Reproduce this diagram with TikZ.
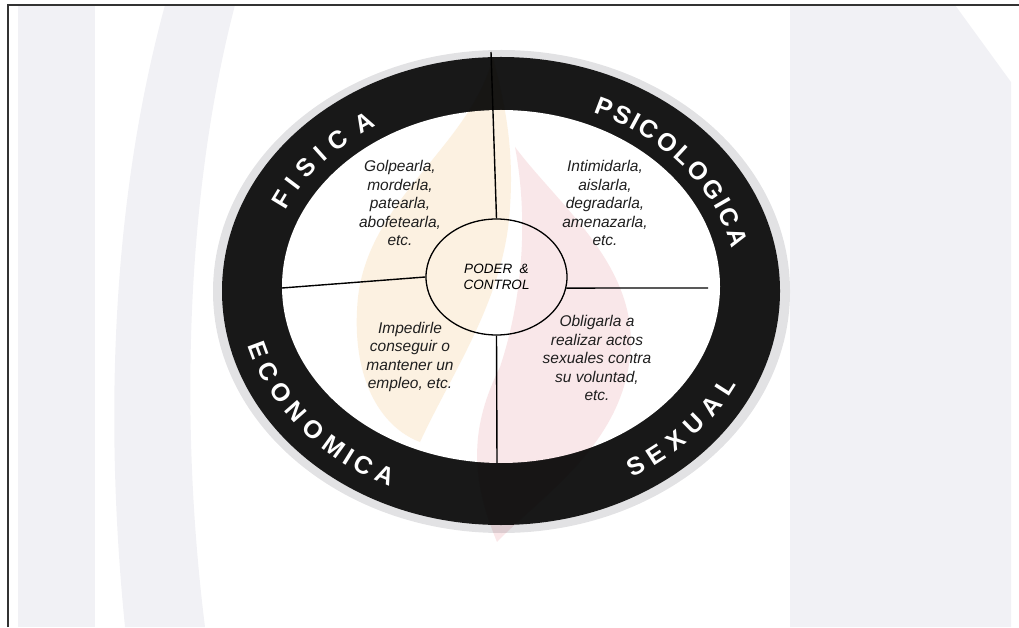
\documentclass[tikz,border=0pt]{standalone}
\usepackage{fontspec}
\setmainfont{Liberation Sans}
\usetikzlibrary{shapes.geometric,decorations.text}

\definecolor{wmgrey}{RGB}{241,241,245}
\definecolor{ringblack}{RGB}{24,24,24}
\definecolor{halo}{RGB}{226,226,228}
\definecolor{flamey}{RGB}{250,228,196}
\definecolor{flamep}{RGB}{242,196,200}

\begin{document}
\begin{tikzpicture}[x=1pt,y=1pt,
    quad/.style={font=\fontsize{15.5}{18.5}\selectfont\itshape, align=center, text=black!88},
    spoke/.style={line width=1.4pt},
    ringlabel/.style={decorate,
        decoration={text effects along path, text={#1},
        text effects/.cd, text along path, fit text to path,
        every character/.style={font=\fontsize{25}{25}\selectfont\bfseries, text=white}}}]

    \useasboundingbox (0,0) rectangle (1019,627);

    % watermark
    \fill[wmgrey] (18,0) rectangle (95,622);
    \fill[wmgrey] (125,0) .. controls (105,200) and (110,420) .. (165,622) -- (235,622)
        .. controls (185,430) and (180,200) .. (205,0) -- cycle;
    \fill[wmgrey] (790,0) -- (790,622) -- (955,622) -- (1011,545) -- (1011,0) -- cycle;

    % frame
    \draw[line width=1.2pt, black!80] (8,0) -- (8,622) -- (1019,622);

    % wheel
    \fill[halo] (501.5,335.5) ellipse [x radius=288.5pt, y radius=241.5pt];
    \fill[ringblack] (501,336) ellipse [x radius=279pt, y radius=234pt];
    \fill[white] (501,340.5) ellipse [x radius=219pt, y radius=176.5pt];
    \coordinate (mid) at (501,338);

    % flame tint
    \begin{scope}[blend mode=multiply]
    \fill[flamey, opacity=.5] (493,570) .. controls (470,480) and (370,430) .. (358,330)
        .. controls (350,250) and (380,200) .. (420,185) .. controls (455,260) and (505,330) .. (510,420)
        .. controls (515,490) and (500,540) .. (493,570) -- cycle;
    \fill[flamep, opacity=.4] (515,480) .. controls (560,420) and (640,360) .. (630,270)
        .. controls (620,180) and (540,130) .. (497,85) .. controls (470,150) and (470,200) .. (500,260)
        .. controls (520,320) and (530,400) .. (515,480) -- cycle;
    \end{scope}

    % centre and spokes
    \node[draw, ellipse, line width=1.3pt, minimum width=141pt, minimum height=116pt, inner sep=0pt,
        font=\fontsize{13.5}{15.5}\selectfont\itshape, align=center] (pc) at (496.5,350) {PODER \ \&\\CONTROL};
    \coordinate (ntop) at (491,575);
    \coordinate (nleft) at (282,339);
    \coordinate (nright) at (708,339);
    \coordinate (nbot) at (497,164);
    \draw[spoke] (ntop) -- (pc.north);
    \draw[spoke] (nleft) -- (pc.west);
    \draw[spoke] (pc.-9) -- (nright);
    \draw[spoke] (pc.south) -- (nbot);

    % quadrant texts
    \node[quad] (fis) at (400,424) {Golpearla,\\morderla,\\patearla,\\abofetearla,\\etc.};
    \node[quad] (psi) at (605,424) {Intimidarla,\\aislarla,\\degradarla,\\amenazarla,\\etc.};
    \node[quad] (eco) at (410,270) {Impedirle\\conseguir o\\mantener un\\empleo, etc.};
    \node[quad] (sex) at (597,269) {Obligarla a\\realizar actos\\sexuales contra\\su voluntad,\\etc.};

    % ring labels
    \path[ringlabel=FISICA] (mid) ++(156:236pt and 192pt)
        arc[start angle=156, end angle=122, x radius=236pt, y radius=192pt];
    \path[ringlabel=PSICOLOGICA] (mid) ++(67:236pt and 192pt)
        arc[start angle=67, end angle=12, x radius=236pt, y radius=192pt];
    \path[ringlabel=ECONOMICA] (mid) ++(195:262pt and 218pt)
        arc[start angle=195, end angle=245, x radius=262pt, y radius=218pt];
    \path[ringlabel=SEXUAL] (mid) ++(300:262pt and 218pt)
        arc[start angle=300, end angle=334, x radius=262pt, y radius=218pt];
\end{tikzpicture}
\end{document}
